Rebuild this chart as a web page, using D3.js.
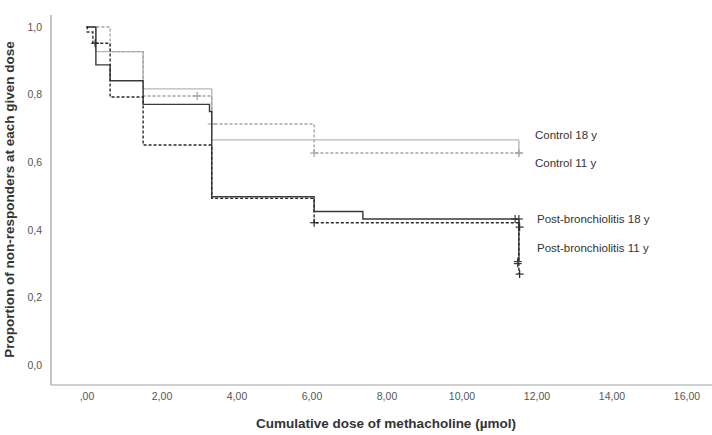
<!DOCTYPE html>
<html>
<head>
<meta charset="utf-8">
<script src="https://cdn.jsdelivr.net/npm/d3@7"></script>
<style>
  body { margin: 0; background: #fff; }
  svg { display: block; font-family: "Liberation Sans", Arial, sans-serif; }
</style>
</head>
<body>
<div id="chart"></div>
<script>
// step curves: [dose, proportion after that dose]
const control18 = [[0, 1], [0.25, 0.927], [1.51, 0.817], [3.34, 0.666], [11.53, 0.666]];
const control11 = [[0, 1], [0.63, 0.927], [1.51, 0.796], [3.34, 0.713], [6.07, 0.627], [11.53, 0.627]];
const post18 = [[0, 1], [0.25, 0.888], [0.63, 0.841], [1.51, 0.771], [3.28, 0.75], [3.34, 0.498],
  [6.07, 0.454], [7.37, 0.432], [11.53, 0.432]];
const post11 = [[0, 1], [0.02, 0.985], [0.17, 0.952], [0.63, 0.793], [1.51, 0.651], [3.34, 0.493],
  [6.07, 0.421], [11.53, 0.421]];

// tail drops at the last dose
const control18Tail = [[11.53, 0.666], [11.53, 0.628]];
const post18Tail = [[11.53, 0.432], [11.53, 0.306]];
const post11Tail = [[11.53, 0.421], [11.53, 0.269]];

// censored observations
const control18Censor = [[11.53, 0.628]];
const control11Censor = [[2.95, 0.796], [3.34, 0.713], [6.07, 0.627], [11.53, 0.627]];
const post18Censor = [[11.43, 0.432], [11.53, 0.432], [11.5, 0.306], [11.5, 0.30]];
const post11Censor = [[0.23, 0.952], [6.07, 0.421], [11.55, 0.408], [11.55, 0.269]];

const seriesLabels = ["Control 18 y", "Control 11 y", "Post-bronchiolitis 18 y", "Post-bronchiolitis 11 y"];
const labelY = [0.680, 0.598, 0.432, 0.347];
const labelX = [535, 535, 537, 537];

const xTicks = [0, 2, 4, 6, 8, 10, 12, 14, 16];
const yTicks = [0, 0.2, 0.4, 0.6, 0.8, 1.0];

const width = 712, height = 435;

const svg = d3.select('#chart')
  .append('svg')
    .attr('width', width)
    .attr('height', height);

const x = d3.scaleLinear()
  .domain([0, 16])
  .range([86.5, 686.5]);

const y = d3.scaleLinear()
  .domain([0, 1])
  .range([365, 27]);

// axis lines
svg.append('line')
  .attr('x1', 51).attr('x2', 51)
  .attr('y1', 15).attr('y2', 385)
  .attr('stroke', '#a0a0a0').attr('stroke-width', 1.2);
svg.append('line')
  .attr('x1', 51).attr('x2', 712)
  .attr('y1', 385).attr('y2', 385)
  .attr('stroke', '#a0a0a0').attr('stroke-width', 1.2);

const fmtX = d => d === 0 ? ',00' : d3.format('.2f')(d).replace('.', ',');
const fmtY = d => d3.format('.1f')(d).replace('.', ',');

const xAxis = svg.append('g')
  .attr('transform', 'translate(0,385)')
  .call(d3.axisBottom(x).tickValues(xTicks).tickFormat(fmtX).tickSize(0).tickPadding(8));
xAxis.select('.domain').remove();
xAxis.selectAll('text')
  .attr('font-family', '"Liberation Sans", Arial, sans-serif')
  .attr('font-size', 10.5)
  .attr('fill', '#555');

const yAxis = svg.append('g')
  .attr('transform', 'translate(51,0)')
  .call(d3.axisLeft(y).tickValues(yTicks).tickFormat(fmtY).tickSize(0).tickPadding(9));
yAxis.select('.domain').remove();
yAxis.selectAll('text')
  .attr('font-family', '"Liberation Sans", Arial, sans-serif')
  .attr('font-size', 10.5)
  .attr('fill', '#555');

// axis titles
svg.append('text')
  .attr('transform', 'rotate(-90)')
  .attr('x', -199.5)
  .attr('y', 14)
  .attr('text-anchor', 'middle')
  .attr('font-size', 13.5)
  .attr('font-weight', 'bold')
  .attr('fill', '#333')
  .text('Proportion of non-responders at each given dose');

svg.append('text')
  .attr('x', 386)
  .attr('y', 428)
  .attr('text-anchor', 'middle')
  .attr('font-size', 13.5)
  .attr('font-weight', 'bold')
  .attr('fill', '#333')
  .text('Cumulative dose of methacholine (µmol)');

const step = d3.line()
  .x(d => x(d[0]))
  .y(d => y(d[1]))
  .curve(d3.curveStepAfter);
const straight = d3.line()
  .x(d => x(d[0]))
  .y(d => y(d[1]));

const series = [
  {data: control18, tail: control18Tail, censor: control18Censor, color: '#b8b8b8', dash: null},
  {data: control11, tail: null, censor: control11Censor, color: '#a4a4a4', dash: '3,2'},
  {data: post18, tail: post18Tail, censor: post18Censor, color: '#3a3a3a', dash: null},
  {data: post11, tail: post11Tail, censor: post11Censor, color: '#2a2a2a', dash: '3,2'}
];

series.forEach(s => {
  svg.append('path')
    .attr('d', step(s.data))
    .attr('fill', 'none')
    .attr('stroke', s.color)
    .attr('stroke-width', 1.4)
    .attr('stroke-dasharray', s.dash);
  if (s.tail) {
    svg.append('path')
      .attr('d', straight(s.tail))
      .attr('fill', 'none')
      .attr('stroke', s.color)
      .attr('stroke-width', 1.4)
      .attr('stroke-dasharray', s.dash);
  }
  const marks = svg.append('g')
    .attr('stroke', s.color)
    .attr('stroke-width', 1.2);
  s.censor.forEach(c => {
    const cx = x(c[0]), cy = y(c[1]);
    marks.append('line').attr('x1', cx - 4).attr('x2', cx + 4).attr('y1', cy).attr('y2', cy);
    marks.append('line').attr('x1', cx).attr('x2', cx).attr('y1', cy - 4).attr('y2', cy + 4);
  });
});

// series labels
svg.append('g')
  .selectAll('text')
  .data(seriesLabels)
  .join('text')
    .attr('x', (d, i) => labelX[i])
    .attr('y', (d, i) => y(labelY[i]))
    .attr('dy', '0.35em')
    .attr('font-size', 11.5)
    .attr('fill', '#333')
    .text(d => d);
</script>
</body>
</html>
